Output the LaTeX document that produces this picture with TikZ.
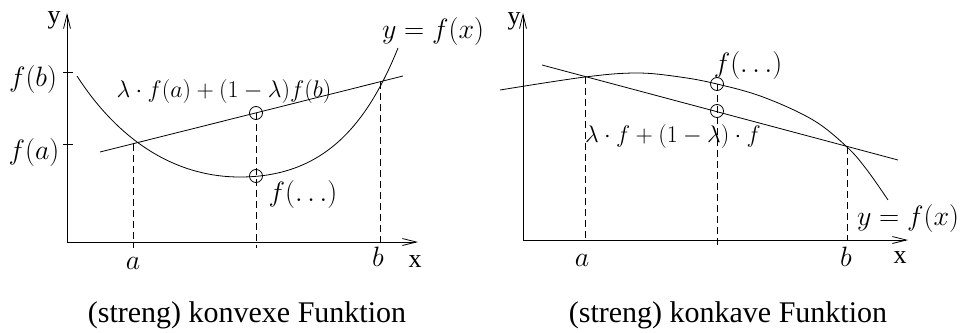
\RequirePackage{fix-cm}
\documentclass[tikz,border=0pt]{standalone}
\usepackage[no-math]{fontspec}
\newfontfamily\timesfont{Liberation Serif}
\usetikzlibrary{arrows.meta}

\begin{document}
\begin{tikzpicture}[
    x=1pt, y=-1pt,
    >={Straight Barb[length=14pt,width=7pt]},
    line width=0.8pt,
    guide/.style={dash pattern=on 7pt off 4pt},
    ringmark/.style={circle, draw, minimum size=13pt, inner sep=0pt},
    mathlbl/.style={inner sep=0pt, font=\fontsize{28}{32}\selectfont},
    sumlbl/.style={inner sep=0pt, font=\fontsize{24}{28}\selectfont},
    axlbl/.style={inner sep=0pt, font=\timesfont\fontsize{26}{30}\selectfont},
    captxt/.style={inner sep=0pt, font=\timesfont\fontsize{30}{34}\selectfont}
]
\useasboundingbox (0,0) rectangle (961,332);

% --- konvex: axes ---
\coordinate (O1) at (67,242);
\coordinate (X1) at (418,242);
\coordinate (Y1) at (67,13);
\draw[->] (O1) -- (X1);
\draw[->] (O1) -- (Y1);
\node[axlbl] (xl1) at (415,262) {x};
\node[axlbl] (yl1) at (54,20) {y};
\draw (63,72) -- (73,72);
\draw (63,144) -- (73,144);
\node[mathlbl] (fb) at (33,79) {$f(b)$};
\node[mathlbl] (fa) at (34,152) {$f(a)$};

% --- konvex: curve and chord ---
\draw (77,76) .. controls (115,135) and (170,177) .. (240,177)
      .. controls (320,177) and (365,130) .. (398,48);
\coordinate (c1s) at (100,152);
\coordinate (c1e) at (403,76);
\draw (c1s) -- (c1e);

% --- konvex: guides ---
\coordinate (A1) at (133,144);
\coordinate (A1x) at (133,248);
\coordinate (B1) at (380,82);
\coordinate (B1x) at (380,242);
\coordinate (M1x) at (256,248);
\node[ringmark] (p1) at (256,113) {};
\node[ringmark] (q1) at (256,176) {};
\draw[guide] (A1) -- (A1x);
\draw[guide] (B1) -- (B1x);
\draw[guide] (p1.center) -- (M1x);
\node[mathlbl] (a1) at (133,263) {$a$};
\node[mathlbl] (b1) at (378,257) {$b$};
\node[sumlbl] (s1) at (224,91) {$\lambda\cdot f(a)+(1-\lambda)f(b)$};
\node[mathlbl] (fm1) at (303,194) {$f(\ldots)$};
\node[mathlbl] (fx1) at (433,32) {$y=f(x)$};
\node[captxt] (cap1) at (247,315) {(streng) konvexe Funktion};

% --- konkav: axes ---
\coordinate (O2) at (523,240);
\coordinate (X2) at (908,240);
\coordinate (Y2) at (523,13);
\draw[->] (O2) -- (X2);
\draw[->] (O2) -- (Y2);
\node[axlbl] (xl2) at (900,258) {x};
\node[axlbl] (yl2) at (514,21) {y};

% --- konkav: curve and chord ---
\draw plot[smooth, tension=0.6] coordinates {(500,90) (585,77) (637,73)
    (680,77) (717,84) (763,97) (813,120) (847,147) (867,170) (888,200)};
\coordinate (c2s) at (542,65);
\coordinate (c2e) at (898,160);
\draw (c2s) -- (c2e);

% --- konkav: guides ---
\coordinate (A2) at (585,77);
\coordinate (A2x) at (585,240);
\coordinate (B2) at (847,147);
\coordinate (B2x) at (847,240);
\coordinate (M2x) at (717,246);
\node[ringmark] (p2) at (717,84) {};
\node[ringmark] (q2) at (717,111) {};
\draw[guide] (A2) -- (A2x);
\draw[guide] (B2) -- (B2x);
\draw[guide] (p2.center) -- (M2x);
\node[mathlbl] (a2) at (582,260) {$a$};
\node[mathlbl] (b2) at (846,257) {$b$};
\node[sumlbl] (s2) at (673,136) {$\lambda\cdot f+(1-\lambda)\cdot f$};
\node[mathlbl] (fm2) at (748,66) {$f(\ldots)$};
\node[mathlbl] (fx2) at (908,218) {$y=f(x)$};
\node[captxt] (cap2) at (728,315) {(streng) konkave Funktion};

\end{tikzpicture}
\end{document}
